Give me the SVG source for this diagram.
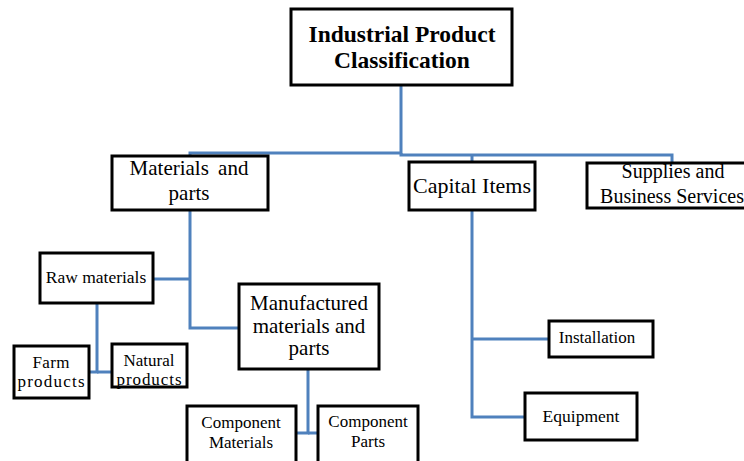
<svg xmlns="http://www.w3.org/2000/svg" width="744" height="461" viewBox="0 0 744 461">
<style>
.box{fill:#fff;stroke:#000;stroke-width:3}
.t{font-family:"Liberation Serif","Times New Roman",serif;fill:#000;text-anchor:middle}
.c{fill:none;stroke:#4F81BD;stroke-width:3}
</style>
<rect width="744" height="461" fill="#fff"/>
<g id="connectors">
<path class="c" d="M401,86 V153 H190 V156"/>
<path class="c" d="M401,153 V155 H672 V163"/>
<path class="c" d="M472,155 V162"/>
<path class="c" d="M190,210 V328 H239"/>
<path class="c" d="M153,279 H190"/>
<path class="c" d="M97,303 V372 H88"/>
<path class="c" d="M97,372 H112"/>
<path class="c" d="M308,369 V433 H297"/>
<path class="c" d="M308,433 H318"/>
<path class="c" d="M472,210 V417 H525"/>
<path class="c" d="M472,339 H549"/>
</g>
<g id="root">
<rect class="box" x="291" y="9" width="221" height="76" stroke-width="4"/>
<text class="t" x="402" y="42" font-size="23.5" font-weight="bold">Industrial Product</text>
<text class="t" x="402" y="68" font-size="23.5" font-weight="bold">Classification</text>
</g>
<g id="materials">
<rect class="box" x="112" y="156" width="156" height="54"/>
<text class="t" x="189" y="175" font-size="21" word-spacing="4">Materials and</text>
<text class="t" x="189" y="200" font-size="21">parts</text>
</g>
<g id="capital">
<rect class="box" x="409" y="162" width="126" height="48"/>
<text class="t" x="472" y="193" font-size="22">Capital Items</text>
</g>
<g id="supplies">
<rect class="box" x="587" y="163" width="162" height="45"/>
<text class="t" x="673" y="178" font-size="20">Supplies and</text>
<text class="t" x="672" y="203" font-size="20">Business Services</text>
</g>
<g id="raw">
<rect class="box" x="40" y="253" width="113" height="50"/>
<text class="t" x="96" y="283" font-size="17.5">Raw materials</text>
</g>
<g id="farm">
<rect class="box" x="14" y="346" width="75" height="52"/>
<text class="t" x="51" y="368" font-size="17" textLength="37" lengthAdjust="spacing">Farm</text>
<text class="t" x="51" y="387" font-size="17" textLength="67" lengthAdjust="spacing">products</text>
</g>
<g id="natural">
<rect class="box" x="112" y="344" width="75" height="43"/>
<text class="t" x="149" y="366" font-size="17">Natural</text>
<text class="t" x="149" y="385" font-size="17" textLength="65" lengthAdjust="spacing">products</text>
</g>
<g id="manufactured">
<rect class="box" x="239" y="284" width="140" height="85"/>
<text class="t" x="309" y="310" font-size="21">Manufactured</text>
<text class="t" x="309" y="333" font-size="21">materials and</text>
<text class="t" x="309" y="355" font-size="21">parts</text>
</g>
<g id="compmat">
<rect class="box" x="187" y="406" width="109" height="60"/>
<text class="t" x="241" y="428" font-size="17">Component</text>
<text class="t" x="241" y="448" font-size="17">Materials</text>
</g>
<g id="compparts">
<rect class="box" x="318" y="406" width="100" height="60"/>
<text class="t" x="368" y="427" font-size="17">Component</text>
<text class="t" x="368" y="447" font-size="17">Parts</text>
</g>
<g id="installation">
<rect class="box" x="549" y="321" width="104" height="36"/>
<text class="t" x="597" y="343" font-size="17">Installation</text>
</g>
<g id="equipment">
<rect class="box" x="525" y="393" width="112" height="47"/>
<text class="t" x="581" y="422" font-size="17.5">Equipment</text>
</g>
</svg>
